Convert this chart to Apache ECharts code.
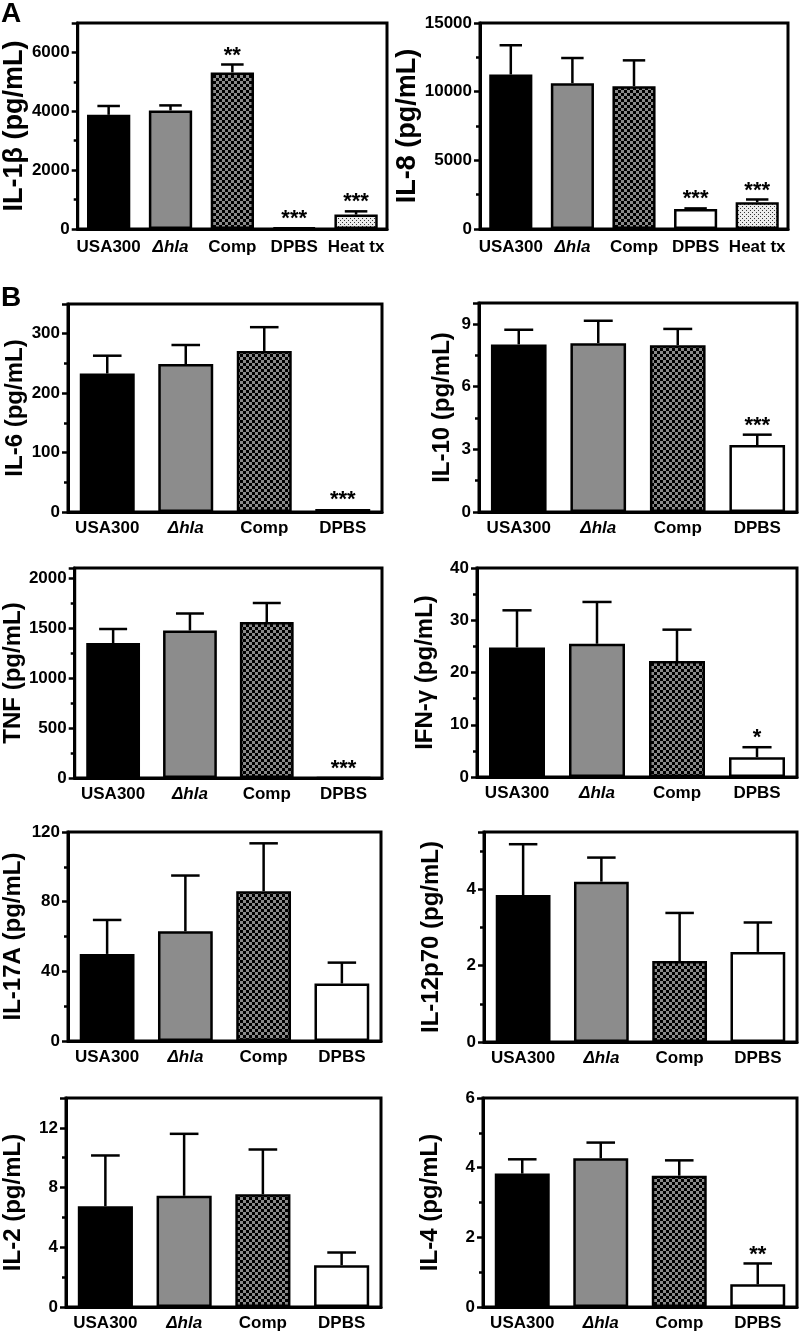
<!DOCTYPE html>
<html>
<head>
<meta charset="utf-8">
<script src="https://cdn.jsdelivr.net/npm/echarts@6/dist/echarts.min.js"></script>
<style>
  html, body { margin: 0; padding: 0; background: #fff; }
  #chart { width: 800px; height: 1332px; }
</style>
</head>
<body>
<div id="chart"></div>
<script>
const FONT = '"Liberation Sans", Arial, sans-serif';

// groups
const groupsA = ['USA300', 'Δhla', 'Comp', 'DPBS', 'Heat tx'];
const groupsB = ['USA300', 'Δhla', 'Comp', 'DPBS'];

// panel A
const il1b = [3880, 4030, 5320, 50, 490];
const il1bErr = [4180, 4200, 5590, 50, 600];
const il1bSig = ['', '', '**', '***', '***'];

const il8 = [11250, 10620, 10400, 1450, 1950];
const il8Err = [13380, 12450, 12280, 1500, 2150];
const il8Sig = ['', '', '', '***', '***'];

// panel B
const il6 = [233, 249, 271, 5];
const il6Err = [263, 281, 311, 5];
const il6Sig = ['', '', '', '***'];

const il10 = [8.02, 8.08, 7.98, 3.2];
const il10Err = [8.72, 9.15, 8.76, 3.7];
const il10Sig = ['', '', '', '***'];

const tnf = [1350, 1475, 1560, 0];
const tnfErr = [1490, 1645, 1750, 0];
const tnfSig = ['', '', '', '***'];

const ifng = [24.8, 25.5, 22.2, 3.8];
const ifngErr = [31.9, 33.5, 28.2, 5.7];
const ifngSig = ['', '', '', '*'];

const il17a = [50, 63, 86, 33];
const il17aErr = [69.5, 95, 113.5, 45];

const il12 = [3.85, 4.2, 2.12, 2.36];
const il12Err = [5.18, 4.83, 3.38, 3.13];

const il2 = [6.75, 7.45, 7.55, 2.8];
const il2Err = [10.15, 11.6, 10.55, 3.65];

const il4 = [3.83, 4.27, 3.77, 0.65];
const il4Err = [4.24, 4.72, 4.21, 1.25];
const il4Sig = ['', '', '', '**'];

// y scales: [max, major, minor]
const il1bScale = [7000, 2000, 1000];
const il8Scale = [15000, 5000, 2500];
const il6Scale = [350, 100, 50];
const il10Scale = [10, 3, 1.5];
const tnfScale = [2100, 500, 250];
const ifngScale = [40, 10, 5];
const il17aScale = [120, 40, 20];
const il12Scale = [5.5, 2, 1];
const il2Scale = [14, 4, 2];
const il4Scale = [6, 2, 1];

// fills
function checker() {
  const c = document.createElement('canvas');
  c.width = 6; c.height = 6;
  const g = c.getContext('2d');
  g.fillStyle = '#8a8a8a';
  g.fillRect(0, 0, 6, 6);
  g.fillStyle = '#000';
  g.fillRect(0, 0, 3, 3);
  g.fillRect(3, 3, 3, 3);
  return c;
}
function stipple() {
  const c = document.createElement('canvas');
  c.width = 4; c.height = 4;
  const g = c.getContext('2d');
  g.fillStyle = '#ececec';
  g.fillRect(0, 0, 4, 4);
  g.fillStyle = '#333';
  g.fillRect(0, 0, 1, 1);
  g.fillRect(2, 2, 1, 1);
  return c;
}
const fills = ['#000', '#8c8c8c', { image: checker(), repeat: 'repeat' }, '#fff', { image: stipple(), repeat: 'repeat' }];

// [name, cats, values, errs, sigs, scale, grid box, nameGap, name size, label margin]
const panels = [
  ['IL-1β (pg/mL)', groupsA, il1b, il1bErr, il1bSig, il1bScale, [70, 23, 317, 206], 49, 27, 10],
  ['IL-8 (pg/mL)', groupsA, il8, il8Err, il8Sig, il8Scale, [480, 23, 308, 206], 47, 27, 10],
  ['IL-6 (pg/mL)', groupsB, il6, il6Err, il6Sig, il6Scale, [68, 304, 314, 208], 41, 24, 8],
  ['IL-10 (pg/mL)', groupsB, il10, il10Err, il10Sig, il10Scale, [479, 303, 318, 209], 25, 24, 8],
  ['TNF (pg/mL)', groupsB, tnf, tnfErr, tnfSig, tnfScale, [68, 568, 314, 210], 48, 24, 8],
  ['IFN-γ (pg/mL)', groupsB, ifng, ifngErr, ifngSig, ifngScale, [477, 568, 320, 209], 40, 24, 8],
  ['IL-17A (pg/mL)', groupsB, il17a, il17aErr, null, il17aScale, [66, 832, 315, 209], 43, 24, 8],
  ['IL-12p70 (pg/mL)', groupsB, il12, il12Err, null, il12Scale, [484, 832, 313, 210], 41, 24, 8],
  ['IL-2 (pg/mL)', groupsB, il2, il2Err, null, il2Scale, [66, 1098, 315, 209], 41, 24, 8],
  ['IL-4 (pg/mL)', groupsB, il4, il4Err, il4Sig, il4Scale, [483, 1098, 314, 209], 41, 24, 8]
];

const black = { color: '#000', width: 3 };
const grid = [], xAxis = [], yAxis = [], series = [];

panels.forEach((p, i) => {
  const [name, cats, vals, errs, sigs, scale, box, gap, nameSize, xMargin] = p;
  const [max, major, minor] = scale;
  grid.push({
    left: box[0], top: box[1], width: box[2], height: box[3],
    show: true, borderColor: '#000', borderWidth: 3
  });
  xAxis.push({
    gridIndex: i, type: 'category', data: cats,
    axisLine: { lineStyle: black },
    axisTick: { alignWithLabel: true, length: 6, lineStyle: { color: '#000', width: 2.5 } },
    axisLabel: {
      interval: 0, margin: xMargin, color: '#000', fontFamily: FONT, fontWeight: 'bold', fontSize: 17,
      formatter: (v) => v === 'Δhla' ? '{d|Δ}{i|hla}' : v,
      rich: {
        d: { fontFamily: FONT, fontSize: 17, fontStyle: 'italic', color: '#000' },
        i: { fontFamily: FONT, fontSize: 17, fontWeight: 'bold', fontStyle: 'italic', color: '#000' }
      }
    }
  });
  yAxis.push({
    gridIndex: i, type: 'value', position: 'left', min: 0, max: max, interval: major,
    name: name, nameLocation: 'middle', nameGap: gap, nameRotate: 90,
    nameTextStyle: { color: '#000', fontFamily: FONT, fontWeight: 'bold', fontSize: nameSize },
    axisLine: { show: true, lineStyle: black },
    axisTick: { show: true, length: 6, lineStyle: { color: '#000', width: 2.5 } },
    axisLabel: {
      margin: 8, color: '#000', fontFamily: FONT, fontWeight: 'bold', fontSize: 17,
      formatter: (v) => Math.abs(v / major - Math.round(v / major)) < 1e-6 ? String(v) : ''
    },
    splitLine: { show: false }
  });
  yAxis.push({
    gridIndex: i, type: 'value', position: 'left', min: 0, max: max, interval: minor,
    axisLine: { show: false },
    axisTick: { show: true, length: 4, lineStyle: { color: '#000', width: 2.5 } },
    axisLabel: { show: false },
    splitLine: { show: false }
  });
  series.push({
    type: 'bar', xAxisIndex: i, yAxisIndex: 2 * i, barWidth: '70%',
    itemStyle: { borderColor: '#000', borderWidth: 2.5 },
    data: vals.map((v, j) => ({ value: v, itemStyle: { color: fills[j] } }))
  });
  series.push({
    type: 'custom', xAxisIndex: i, yAxisIndex: 2 * i, z: 5,
    encode: { x: 0, y: 1 },
    data: vals.map((v, j) => [j, v, errs[j]]),
    renderItem: (params, api) => {
      const j = api.value(0), m = api.value(1), e = api.value(2);
      const base = api.coord([j, m]);
      const top = api.coord([j, e]);
      const half = api.size([1, 0])[0] * 0.7 * 0.26;
      const children = [];
      const ls = { stroke: '#000', lineWidth: 2.5 };
      if (e > m) {
        children.push({ type: 'line', shape: { x1: base[0], y1: base[1], x2: top[0], y2: top[1] }, style: ls });
        children.push({ type: 'line', shape: { x1: top[0] - half, y1: top[1], x2: top[0] + half, y2: top[1] }, style: ls });
      }
      const s = sigs ? sigs[params.dataIndex] : '';
      if (s) {
        children.push({
          type: 'text',
          style: { text: s, x: top[0], y: top[1] + 2, align: 'center', verticalAlign: 'bottom',
                   font: 'bold 22px ' + FONT, fill: '#000' }
        });
      }
      return { type: 'group', children: children };
    }
  });
});

const option = {
  animation: false,
  backgroundColor: '#fff',
  grid, xAxis, yAxis, series,
  graphic: [
    { type: 'text', left: 1, top: 0, style: { text: 'A', font: 'bold 28px ' + FONT, fill: '#000' } },
    { type: 'text', left: 1, top: 284, style: { text: 'B', font: 'bold 28px ' + FONT, fill: '#000' } }
  ]
};

const chart = echarts.init(document.getElementById('chart'), null, { renderer: 'canvas' });
chart.setOption(option);
</script>
</body>
</html>
